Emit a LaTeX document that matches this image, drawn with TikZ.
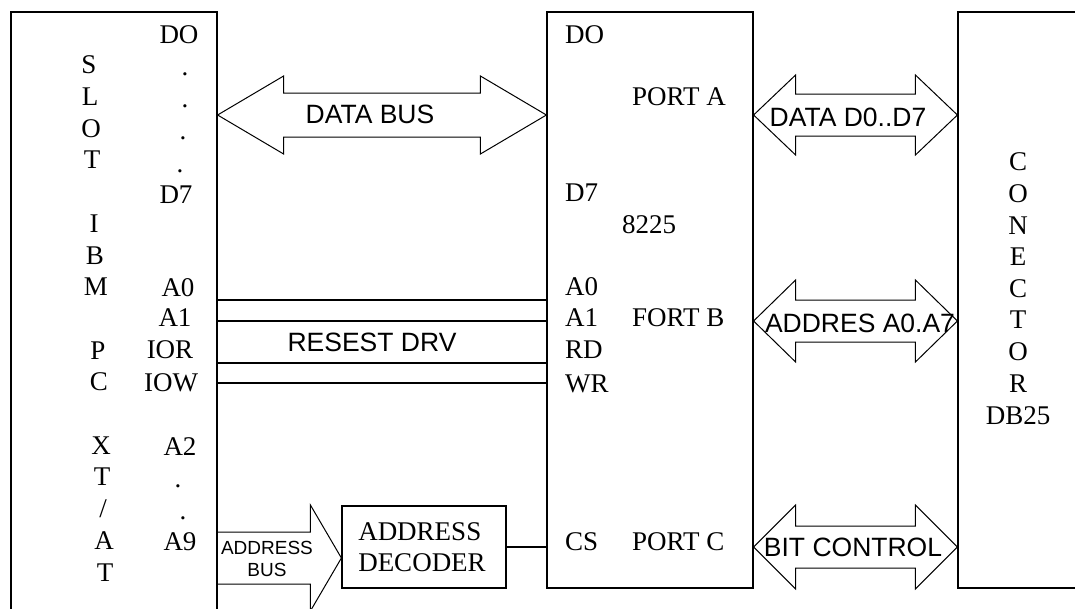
\documentclass[tikz,border=0pt]{standalone}
\usepackage{fontspec}
\usetikzlibrary{calc,fit}
\newfontfamily\pinfont{Liberation Serif}
\newfontfamily\busfont{Liberation Sans}
\newcommand\pinsize{\pinfont\fontsize{27}{31}\selectfont}
\newcommand\bussize{\busfont\fontsize{26.5}{30}\selectfont}
\newcommand\tinybus{\busfont\fontsize{19}{22}\selectfont}
\tikzstyle{block} = [draw, line width=1.2pt, inner sep=0pt]
\tikzstyle{pinlbl} = [font=\pinsize, inner sep=0pt]
\tikzstyle{buslbl} = [font=\bussize, inner sep=0pt]
\tikzstyle{wire} = [draw, line width=1.2pt]
\tikzset{
  dbus/.style n args={3}{draw, line width=1pt,
    to path={let \p1=(\tikztostart), \p2=(\tikztotarget) in
      -- (\x1+#1pt,\y1+#2pt) -- (\x1+#1pt,\y1+#3pt) -- (\x2-#1pt,\y1+#3pt)
      -- (\x2-#1pt,\y1+#2pt) -- (\x2,\y1) -- (\x2-#1pt,\y1-#2pt)
      -- (\x2-#1pt,\y1-#3pt) -- (\x1+#1pt,\y1-#3pt) -- (\x1+#1pt,\y1-#2pt)
      -- cycle \tikztonodes}},
  sbus/.style n args={3}{draw, line width=1pt,
    to path={let \p1=(\tikztostart), \p2=(\tikztotarget) in
      (\x1,\y1+#3pt) -- (\x2-#1pt,\y1+#3pt) -- (\x2-#1pt,\y1+#2pt)
      -- (\x2,\y1) -- (\x2-#1pt,\y1-#2pt) -- (\x2-#1pt,\y1-#3pt)
      -- (\x1,\y1-#3pt) \tikztonodes}}
}
\begin{document}
\begin{tikzpicture}[x=1pt, y=-1pt]
    \useasboundingbox (0,0) rectangle (1075,608);
    \clip (0,0) rectangle (1075,608);

    % Place nodes
    \node [block, fit={(11,12) (217,640)}] (slot) {};
    \node [block, fit={(547,12) (753,588)}] (chip) {};
    \node [block, fit={(958,12) (1100,588)}] (conn) {};
    \node [block, fit={(342,506) (506,588)}] (dec) {};
    \node [pinlbl, align=left] (dectxt) at ([xshift=-2pt]dec.center) {ADDRESS\\DECODER};

    % Slot labels
    \foreach \c/\k in {S/0,L/1,O/2,T/3,I/5,B/6,M/7,P/9,C/10,X/12,T/13,{/}/14,A/15,T/16}
        \node [pinlbl] (slot\k) at (89+\k, 65+31.7*\k) {\c};
    \foreach \t/\x/\y in {DO/179/35, D7/176/195, A0/178/288, A1/175/318,
                          IOR/170/350, IOW/171/383, A2/180/447, A9/180/542}
        \node [pinlbl] (s\t) at (\x,\y) {\t};
    \foreach \x/\y [count=\i] in {185/73, 185/105, 183/137, 180/170, 178/485, 183/517}
        \node [pinlbl, anchor=base] (sdot\i) at (\x,\y+2) {.};

    % 8225 labels
    \foreach \t/\y in {DO/35, D7/193, A0/287, A1/318, RD/350, WR/384, CS/542}
        \node [pinlbl, anchor=west] (p\t) at (565,\y) {\t};
    \node [pinlbl, anchor=west] (portA) at (632,97) {PORT A};
    \node [pinlbl, anchor=west] (name) at (622,225) {8225};
    \node [pinlbl, anchor=west] (portB) at (632,318) {FORT B};
    \node [pinlbl, anchor=west] (portC) at (632,542) {PORT C};

    % Connector labels
    \foreach \c [count=\i from 0] in {C,O,N,E,C,T,O,R}
        \node [pinlbl] (conn\i) at (1018, 162+31.6*\i) {\c};
    \node [pinlbl] (db) at (1018,416) {DB25};

    % Draw edges
    \foreach \y in {300,321,363,383}
        \draw [wire] (slot.east |- 0,\y) -- (chip.west |- 0,\y);
    \node [buslbl] (rst) at (372,342) {RESEST DRV};
    \draw [wire] (dec.east) -- (chip.west |- dec.east);

    % Buses
    \draw [dbus={66}{39}{22}] (slot.east |- 0,115) to (chip.west |- 0,115);
    \draw [dbus={42}{40}{21}] (chip.east |- 0,115) to (conn.west |- 0,115);
    \draw [dbus={42}{41}{21}] (chip.east |- 0,321) to (conn.west |- 0,321);
    \draw [dbus={42}{42}{21}] (chip.east |- 0,547) to (conn.west |- 0,547);
    \draw [sbus={31}{53}{26}] (slot.east |- 0,558) to (dec.west |- 0,558);
    \node [buslbl] (dbus) at (370,114) {DATA BUS};
    \node [buslbl] (ddat) at (848,117) {DATA D0..D7};
    \node [buslbl] (dadr) at (860,323) {ADDRES A0.A7};
    \node [buslbl] (dbit) at (853,547) {BIT CONTROL};
    \node [font=\tinybus, align=center, inner sep=0pt] (abus) at (267,559) {ADDRESS\\BUS};
\end{tikzpicture}
\end{document}
